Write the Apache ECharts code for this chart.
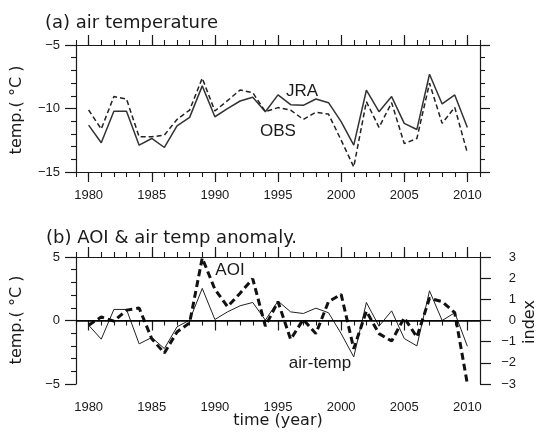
<!DOCTYPE html>
<html>
<head>
<meta charset="utf-8">
<script src="https://cdn.jsdelivr.net/npm/echarts@6/dist/echarts.min.js"></script>
<style>html,body{margin:0;padding:0;background:#fff}#c{width:537px;height:432px}</style>
</head>
<body>
<div id="c"></div>
<script>
var years = [1980,1981,1982,1983,1984,1985,1986,1987,1988,1989,1990,1991,1992,1993,1994,1995,1996,1997,1998,1999,2000,2001,2002,2003,2004,2005,2006,2007,2008,2009,2010];
var jra = [-11.31,-12.70,-10.22,-10.22,-12.89,-12.36,-13.07,-11.36,-10.70,-8.22,-10.65,-10.01,-9.41,-9.12,-10.25,-8.93,-9.70,-9.75,-9.25,-9.54,-11.04,-12.89,-8.56,-10.25,-9.06,-11.17,-11.65,-7.30,-9.64,-8.93,-11.49];
var obs = [-10.12,-11.62,-9.06,-9.25,-12.23,-12.23,-12.10,-10.86,-10.12,-7.61,-10.20,-9.38,-8.54,-8.75,-10.25,-9.93,-10.12,-10.86,-10.30,-10.44,-12.49,-14.60,-9.46,-11.49,-9.54,-12.76,-12.36,-8.01,-11.17,-9.91,-13.50];
var airTemp = [-0.37,-1.47,0.87,0.87,-1.84,-1.34,-2.21,-0.50,0.03,2.53,0.08,0.68,1.16,1.42,0.03,1.53,0.68,0.55,0.97,0.61,-1.03,-2.87,1.42,-0.45,0.76,-1.42,-2.00,2.34,0.00,0.61,-2.03];
var aoi = [-0.22,0.17,-0.03,0.49,0.59,-0.86,-1.54,-0.54,-0.11,2.95,1.48,0.65,1.29,1.97,-0.27,0.89,-0.89,0.05,-0.62,0.89,1.24,-1.33,0.44,-0.62,-0.97,0.13,-0.78,1.05,0.89,0.37,-3.00];
var majorYears = [1980,1985,1990,1995,2000,2005,2010];
var leftTicksA = [-15,-10,-5];
var leftTicksB = [-5,0,5];
var rightTicksB = [-3,-2,-1,0,1,2,3];

function pairs(v){ return years.map(function(y,i){ return [y, v[i]]; }); }
function fmt(v){ return v < 0 ? '\u2212' + Math.abs(v) : String(v); }

var ink = '#1a1a1a';
var tickFont = {fontFamily:'Liberation Sans', fontSize:13, color:ink};

function xAxesFor(grid){
  var base = {type:'value', gridIndex:grid, min:1979, max:2011, splitLine:{show:false}};
  return [
    Object.assign({}, base, {position:'bottom',
      axisLine:{show:true, lineStyle:{color:ink, width:1.2}},
      axisTick:{show:true, customValues:majorYears, length:10, lineStyle:{color:ink, width:1.2}},
      axisLabel:Object.assign({show:true, customValues:majorYears, margin:17, formatter:function(v){return String(v);}}, tickFont)}),
    Object.assign({}, base, {position:'bottom', interval:1,
      axisLine:{show:false}, axisTick:{show:true, length:5, lineStyle:{color:ink, width:1.1}}, axisLabel:{show:false}}),
    Object.assign({}, base, {position:'top',
      axisLine:{show:true, lineStyle:{color:ink, width:1.2}},
      axisTick:{show:true, customValues:majorYears, length:10, lineStyle:{color:ink, width:1.2}},
      axisLabel:{show:false}}),
    Object.assign({}, base, {position:'top', interval:1,
      axisLine:{show:false}, axisTick:{show:true, length:5, lineStyle:{color:ink, width:1.1}}, axisLabel:{show:false}})
  ];
}

var option = {
  animation:false,
  backgroundColor:'#fff',
  grid:[
    {left:76, top:45, width:404, height:127},
    {left:76, top:257, width:404, height:127}
  ],
  xAxis: xAxesFor(0).concat(xAxesFor(1)),
  yAxis:[
    {type:'value', gridIndex:0, position:'left', min:-15, max:-5, interval:5, splitLine:{show:false},
     axisLine:{show:true, lineStyle:{color:ink, width:1.2}},
     axisTick:{show:true, length:11, lineStyle:{color:ink, width:1.2}},
     minorTick:{show:true, splitNumber:5, length:5, lineStyle:{color:ink, width:1.1}},
     axisLabel:Object.assign({margin:16, formatter:fmt, customValues:leftTicksA}, tickFont)},
    {type:'value', gridIndex:0, position:'right', min:-15, max:-5, interval:5, splitLine:{show:false},
     axisLine:{show:true, lineStyle:{color:ink, width:1.2}},
     axisTick:{show:true, length:10, lineStyle:{color:ink, width:1.2}},
     minorTick:{show:true, splitNumber:5, length:5, lineStyle:{color:ink, width:1.1}},
     axisLabel:{show:false}},
    {type:'value', gridIndex:1, position:'left', min:-5, max:5, interval:5, splitLine:{show:false},
     axisLine:{show:true, lineStyle:{color:ink, width:1.2}},
     axisTick:{show:true, length:11, lineStyle:{color:ink, width:1.2}},
     minorTick:{show:true, splitNumber:5, length:5, lineStyle:{color:ink, width:1.1}},
     axisLabel:Object.assign({margin:16, formatter:fmt, customValues:leftTicksB}, tickFont)},
    {type:'value', gridIndex:1, position:'right', min:-3, max:3, interval:1, splitLine:{show:false},
     axisLine:{show:true, lineStyle:{color:ink, width:1.2}},
     axisTick:{show:true, length:11, lineStyle:{color:ink, width:1.2}},
     axisLabel:Object.assign({margin:36, align:'right', formatter:fmt, customValues:rightTicksB}, tickFont)}
  ],
  series:[
    {name:'JRA', type:'line', xAxisIndex:0, yAxisIndex:0, data:pairs(jra), symbol:'none',
     lineStyle:{color:'#333', width:1.5, type:'solid'}},
    {name:'OBS', type:'line', xAxisIndex:0, yAxisIndex:0, data:pairs(obs), symbol:'none',
     lineStyle:{color:'#222', width:1.5, type:[5,3]}},
    {name:'air-temp', type:'line', xAxisIndex:4, yAxisIndex:2, data:pairs(airTemp), symbol:'none',
     lineStyle:{color:'#222', width:1},
     markLine:{silent:true, symbol:'none', label:{show:false},
       lineStyle:{color:'#000', width:1.5, type:'solid'}, data:[{yAxis:0}]}},
    {name:'AOI', type:'line', xAxisIndex:4, yAxisIndex:3, data:pairs(aoi), symbol:'none',
     lineStyle:{color:'#111', width:3, type:[7,4]}}
  ],
  graphic:[
    {type:'text', left:45, top:14, style:{text:'(a) air temperature', font:'18px "DejaVu Sans"', fill:ink}},
    {type:'text', left:46, top:229, style:{text:'(b) AOI & air temp anomaly.', font:'18px "DejaVu Sans"', fill:ink}},
    {type:'text', x:17, y:110, rotation:Math.PI/2, style:{text:'temp.( \u00B0C )', font:'16px "DejaVu Sans"', fill:ink, align:'center', verticalAlign:'middle'}},
    {type:'text', x:17, y:320, rotation:Math.PI/2, style:{text:'temp.( \u00B0C )', font:'16px "DejaVu Sans"', fill:ink, align:'center', verticalAlign:'middle'}},
    {type:'text', x:530, y:322, rotation:Math.PI/2, style:{text:'index', font:'16px "DejaVu Sans"', fill:ink, align:'center', verticalAlign:'middle'}},
    {type:'text', x:278, y:421, style:{text:'time (year)', font:'16px "DejaVu Sans"', fill:ink, align:'center', verticalAlign:'middle'}},
    {type:'text', x:302, y:91, style:{text:'JRA', font:'17px "Liberation Sans"', fill:ink, align:'center', verticalAlign:'middle'}},
    {type:'text', x:278, y:131, style:{text:'OBS', font:'17px "Liberation Sans"', fill:ink, align:'center', verticalAlign:'middle'}},
    {type:'text', x:230, y:270, style:{text:'AOI', font:'17px "Liberation Sans"', fill:ink, align:'center', verticalAlign:'middle'}},
    {type:'text', x:320, y:363, style:{text:'air-temp', font:'17px "Liberation Sans"', fill:ink, align:'center', verticalAlign:'middle'}}
  ]
};
var chart = echarts.init(document.getElementById('c'), null, {renderer:'canvas'});
chart.setOption(option);
</script>
</body>
</html>
